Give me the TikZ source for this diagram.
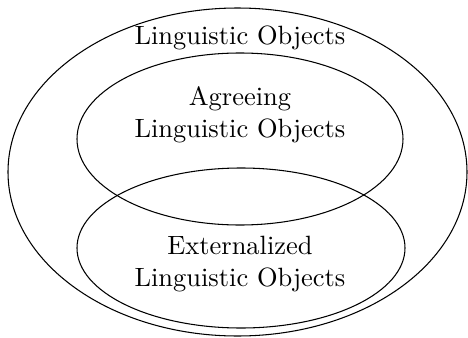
\documentclass[tikz,border=0pt]{standalone}
\usepackage{amsmath, amssymb}
\usepackage{tikz}
\usetikzlibrary{calc, positioning}

\begin{document}
\begin{tikzpicture}[x=0.01329cm, y=0.01329cm, lbl/.style={align=center, inner sep=0pt}]
    % Khung ảnh
    \useasboundingbox (0,0) rectangle (468,337);

    % Các hình elip
    \draw (237.5,165) ellipse [x radius=229.5, y radius=164];
    \draw (240,198) ellipse [x radius=163, y radius=86];
    \draw (241,89) ellipse [x radius=164, y radius=80];

    % Nhãn
    \node[lbl] (lingobj) at (240,299) {Linguistic Objects};
    \node[lbl] (agree) at (240,222) {Agreeing\\Linguistic Objects};
    \node[lbl] (extern) at (240,73) {Externalized\\Linguistic Objects};
\end{tikzpicture}
\end{document}
